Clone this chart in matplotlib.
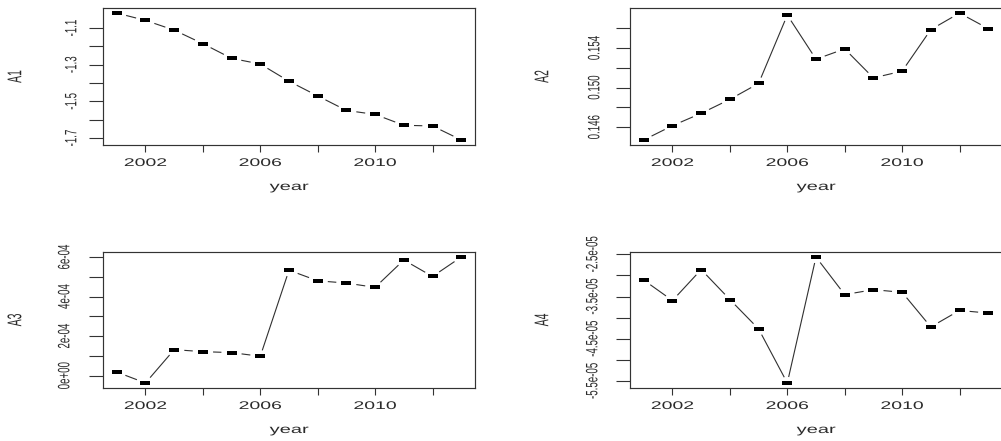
import numpy as np
import matplotlib
matplotlib.use("Agg")
import matplotlib.pyplot as plt
from matplotlib import patheffects
from matplotlib.transforms import Affine2D

years = [2001, 2002, 2003, 2004, 2005, 2006, 2007, 2008, 2009, 2010, 2011, 2012, 2013]

a1 = [-1.018, -1.058, -1.111, -1.185, -1.265, -1.296, -1.390,
      -1.470, -1.549, -1.571, -1.630, -1.634, -1.710]
a2 = [0.14472, 0.14616, 0.14741, 0.14882, 0.15043, 0.15734, 0.15288,
      0.15392, 0.15099, 0.15167, 0.15587, 0.15754, 0.15597]
a3 = [0.183e-4, -0.367e-4, 1.317e-4, 1.217e-4, 1.167e-4, 0.983e-4, 5.333e-4,
      4.800e-4, 4.683e-4, 4.467e-4, 5.850e-4, 5.017e-4, 6.000e-4]
a4 = [-3.109e-5, -3.594e-5, -2.859e-5, -3.570e-5, -4.266e-5, -5.547e-5, -2.5625e-5,
      -3.453e-5, -3.336e-5, -3.398e-5, -4.219e-5, -3.828e-5, -3.891e-5]

x_ticks = [2002, 2004, 2006, 2008, 2010, 2012]
x_labels = ["2002", "", "2006", "", "2010", ""]

a1_ticks = [-1.7, -1.6, -1.5, -1.4, -1.3, -1.2, -1.1]
a1_labels = ["-1.7", "", "-1.5", "", "-1.3", "", "-1.1"]
a2_ticks = [0.146, 0.148, 0.150, 0.152, 0.154, 0.156]
a2_labels = ["0.146", "", "0.150", "", "0.154", ""]
a3_ticks = [0.0, 1e-4, 2e-4, 3e-4, 4e-4, 5e-4, 6e-4]
a3_labels = ["0e+00", "", "2e-04", "", "4e-04", "", "6e-04"]
a4_ticks = [-5.5e-5, -5.0e-5, -4.5e-5, -4.0e-5, -3.5e-5, -3.0e-5, -2.5e-5]
a4_labels = ["-5.5e-05", "", "-4.5e-05", "", "-3.5e-05", "", "-2.5e-05"]

names = ["A1", "A2", "A3", "A4"]
series = [a1, a2, a3, a4]
yticks = [a1_ticks, a2_ticks, a3_ticks, a4_ticks]
ylabels = [a1_labels, a2_labels, a3_labels, a4_labels]

W, H = 1001, 441
# panel boxes in pixels: left, top, width, height
boxes = [(103, 8, 372, 137), (630, 8, 372, 137),
         (103, 252, 372, 136), (630, 252, 372, 136)]
# distance of the y tick label centres from the spine (pixels)
ylab_off = [32, 36, 39, 38]

INK = "#2b2b2b"
FONT = ["Liberation Sans", "DejaVu Sans"]


class Stretch(patheffects.AbstractPathEffect):
    """Widen glyphs horizontally about the centre of their ink."""

    def __init__(self, sx):
        super().__init__()
        self.sx = sx

    def draw_path(self, renderer, gc, tpath, affine, rgbFace=None):
        ext = tpath.get_extents(affine)
        cx = 0.5 * (ext.x0 + ext.x1)
        t = affine + Affine2D().translate(-cx, 0).scale(self.sx, 1).translate(cx, 0)
        renderer.draw_path(gc, tpath, t, rgbFace)


def px2pt(p):
    return p * 72.0 / 100.0


fig = plt.figure(figsize=(W / 100, H / 100), dpi=100)
fig.patch.set_facecolor("white")

rect = [(-1, -0.45), (1, -0.45), (1, 0.45), (-1, 0.45)]
GX = 1.7   # horizontal widening of the gap ellipse
GAP = 6.0  # gap radius around each point, pixels

for i, (name, vals) in enumerate(zip(names, series)):
    l, t, w, h = boxes[i]
    ax = fig.add_axes([l / W, (H - t - h) / H, w / W, h / H])

    lo, hi = min(vals), max(vals)
    pad = 0.04 * (hi - lo)
    ax.set_ylim(lo - pad, hi + pad)
    ax.set_xlim(2001 - 0.04 * 12, 2013 + 0.04 * 12)

    # line segments broken around each point
    pts = ax.transData.transform(np.column_stack([years, vals]))
    inv = ax.transData.inverted()
    for p, q in zip(pts[:-1], pts[1:]):
        d = q - p
        L = np.hypot(d[0] / GX, d[1])
        if L <= 2 * GAP:
            continue
        a = p + d * GAP / L
        b = q - d * GAP / L
        seg = inv.transform(np.vstack([a, b]))
        ax.plot(seg[:, 0], seg[:, 1], color="#303030", lw=0.8, solid_capstyle="butt")

    ax.plot(years, vals, linestyle="none", marker=rect, markersize=px2pt(9.5),
            markerfacecolor="black", markeredgewidth=0, color="black")

    for s in ax.spines.values():
        s.set_color("#333333")
        s.set_linewidth(0.85)

    ax.set_xticks(x_ticks, x_labels)
    ax.set_yticks(yticks[i], ylabels[i])

    ax.tick_params(axis="x", direction="out", length=px2pt(7), width=0.8,
                   color="#333333", pad=px2pt(11), labelsize=8.0, labelcolor=INK)
    ax.tick_params(axis="y", direction="out", length=px2pt(14), width=0.8,
                   color="#333333", pad=px2pt(ylab_off[i] - 14), labelsize=7.0,
                   labelcolor=INK)

    for lab in ax.get_xticklabels():
        lab.set_family(FONT)
        lab.set_va("center")
        lab.set_path_effects([Stretch(1.75)])
    for lab in ax.get_yticklabels():
        lab.set_family(FONT)
        lab.set_rotation(90)
        lab.set_ha("center")
        lab.set_va("center")
        lab.set_path_effects([Stretch(1.7)])

    ax.set_xlabel("year", family=FONT, fontsize=8.5, color=INK, va="center",
                  path_effects=[Stretch(1.7)])
    ax.xaxis.set_label_coords(0.5, -42.0 / h)
    ax.set_ylabel(name, family=FONT, fontsize=7.5, color=INK, va="center",
                  rotation=90, path_effects=[Stretch(1.9)])
    ax.yaxis.set_label_coords(-88.0 / w, 0.5)

fig.savefig("out.png", dpi=100, facecolor="white")
